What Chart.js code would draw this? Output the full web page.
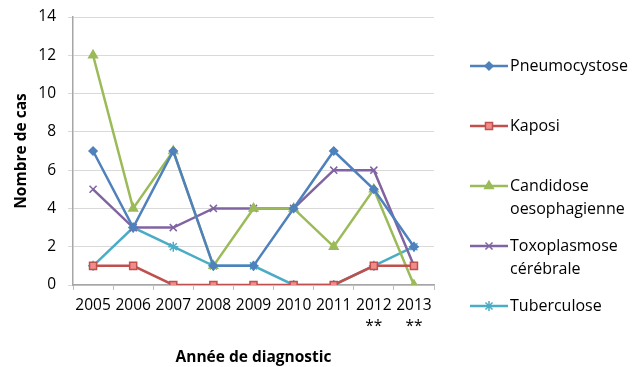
<!DOCTYPE html>
<html>
<head>
<meta charset="utf-8">
<script src="https://cdn.jsdelivr.net/npm/chart.js@4.4.1/dist/chart.umd.min.js"></script>
<style>
  html, body { margin: 0; padding: 0; background: #fff; }
  #wrap { position: relative; width: 640px; height: 367px; }
</style>
</head>
<body>
<div id="wrap"><canvas id="c" width="640" height="367"></canvas></div>
<script>
// Cas par année de diagnostic
const years = [["2005"], ["2006"], ["2007"], ["2008"], ["2009"], ["2010"], ["2011"], ["2012", "**"], ["2013", "**"]];
const pneumocystose = [7, 3, 7, 1, 1, 4, 7, 5, 2];
const kaposi        = [1, 1, 0, 0, 0, 0, 0, 1, 1];
const candidose     = [12, 4, 7, 1, 4, 4, 2, 5, 0];
const toxoplasmose  = [5, 3, 3, 4, 4, 4, 6, 6, 1];
const tuberculose   = [1, 3, 2, 1, 1, 0, 0, 1, 2];
const legendLabels = [["Pneumocystose"], ["Kaposi"], ["Candidose", "oesophagienne"], ["Toxoplasmose", "cérébrale"], ["Tuberculose"]];
const yTicks = [0, 2, 4, 6, 8, 10, 12, 14];

const FONT = "Open Sans";

function series(label, data, color, style, fill, radius) {
  return {
    label, data,
    borderColor: color,
    backgroundColor: fill,
    pointBorderColor: color,
    pointBackgroundColor: fill,
    pointStyle: style,
    pointRadius: radius,
    pointBorderWidth: 1.5,
    borderWidth: 2.5,
    tension: 0
  };
}

// Légende à droite, dessinée avec les styles des séries
const sideLegend = {
  id: 'sideLegend',
  afterDraw(chart) {
    const ctx = chart.ctx;
    const rows = [66, 126, 186, 246, 306];
    ctx.save();
    chart.data.datasets.forEach((ds, i) => {
      const y = rows[i];
      ctx.strokeStyle = ds.borderColor;
      ctx.lineWidth = ds.borderWidth;
      ctx.beginPath();
      ctx.moveTo(470, y);
      ctx.lineTo(508, y);
      ctx.stroke();
      ctx.fillStyle = ds.pointBackgroundColor;
      ctx.strokeStyle = ds.pointBorderColor;
      ctx.lineWidth = ds.pointBorderWidth;
      Chart.helpers.drawPoint(ctx, {
        pointStyle: ds.pointStyle,
        radius: ds.pointRadius,
        rotation: 0,
        borderWidth: ds.pointBorderWidth
      }, 489, y);
      ctx.fillStyle = '#000';
      ctx.font = `16px "${FONT}"`;
      ctx.textBaseline = 'middle';
      ctx.textAlign = 'left';
      legendLabels[i].forEach((t, k) => ctx.fillText(t, 510, y + k * 23));
    });
    ctx.restore();
  }
};

new Chart(document.getElementById('c'), {
  type: 'line',
  data: {
    labels: years,
    datasets: [
      series(legendLabels[0].join(' '), pneumocystose, '#4F81BD', 'rectRot', '#4F81BD', 4),
      series(legendLabels[1].join(' '), kaposi, '#C0504D', 'rect', '#F08C8A', 5),
      series(legendLabels[2].join(' '), candidose, '#9BBB59', 'triangle', '#9BBB59', 5),
      series(legendLabels[3].join(' '), toxoplasmose, '#8064A2', 'crossRot', '#8064A2', 5),
      series(legendLabels[4].join(' '), tuberculose, '#4BACC6', 'star', '#4BACC6', 5)
    ]
  },
  options: {
    responsive: false,
    animation: false,
    devicePixelRatio: 1,
    layout: { padding: { left: 0, right: 206, top: 17, bottom: 0 } },
    plugins: { legend: { display: false }, tooltip: { enabled: false } },
    scales: {
      x: {
        offset: true,
        grid: { display: true, drawOnChartArea: false, drawTicks: true, tickLength: 5, offset: true, color: '#BFBFBF' },
        border: { color: '#A6A6A6', width: 1.5 },
        ticks: { color: '#000', font: { family: FONT, size: 15.5, lineHeight: 1.3 }, padding: 6, maxRotation: 0, autoSkip: false },
        title: { display: true, text: 'Année de diagnostic', color: '#000', font: { family: FONT, size: 15.5, weight: 'bold' }, padding: { top: 0, bottom: 0 } },
        afterFit(s) { s.height = 82; s.paddingLeft = 0; s.paddingRight = 0; }
      },
      y: {
        min: 0, max: 14,
        afterBuildTicks(s) { s.ticks = yTicks.map(v => ({ value: v })); },
        grid: { color: '#D9D9D9', lineWidth: 1, drawTicks: true, tickLength: 5 },
        border: { color: '#A6A6A6', width: 1.5 },
        ticks: { color: '#000', font: { family: FONT, size: 15.5 }, padding: 12 },
        title: { display: true, text: 'Nombre de cas', color: '#000', font: { family: FONT, size: 15.5, weight: 'bold' }, padding: { top: 12, bottom: 0 } },
        afterFit(s) { s.width = 73; s.paddingTop = 0; s.paddingBottom = 0; }
      }
    }
  },
  plugins: [sideLegend]
});
</script>
</body>
</html>
